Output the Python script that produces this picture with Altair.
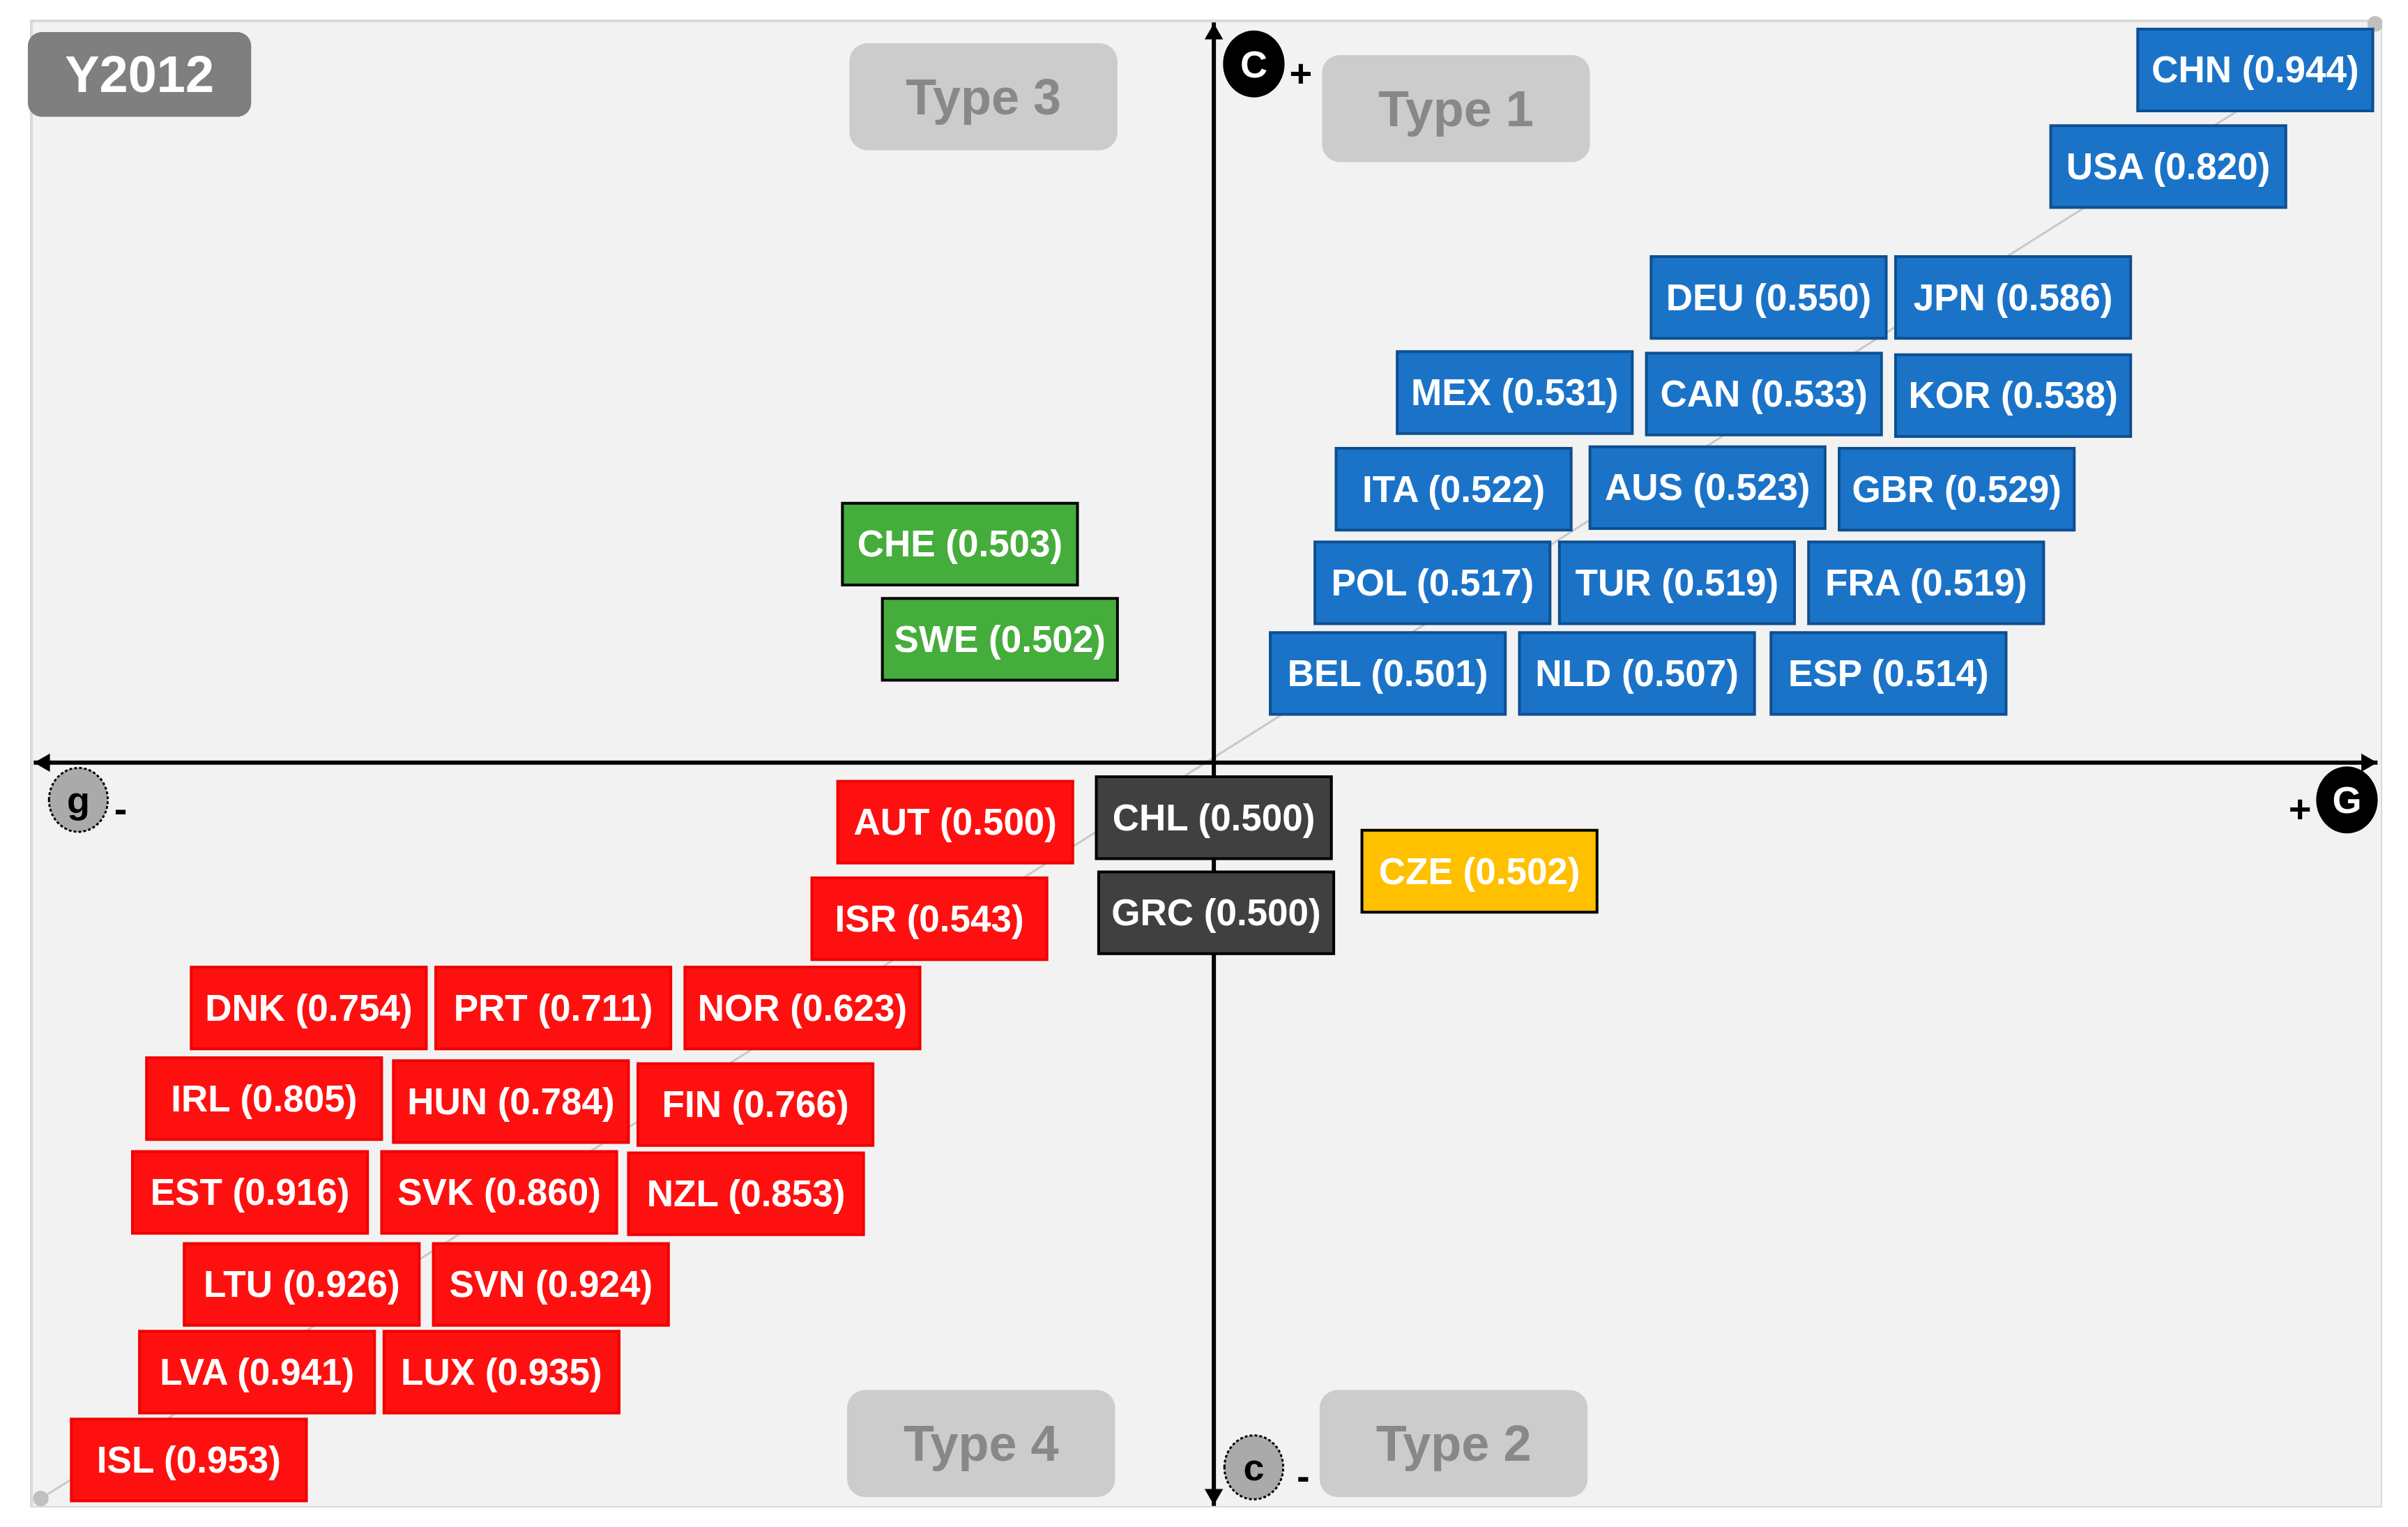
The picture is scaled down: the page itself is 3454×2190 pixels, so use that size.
import altair as alt
import pandas as pd

# ---- data ----
codes = ["CHN", "USA", "DEU", "JPN", "MEX", "CAN", "KOR", "ITA", "AUS", "GBR",
         "POL", "TUR", "FRA", "BEL", "NLD", "ESP", "CHE", "SWE", "CHL", "GRC",
         "CZE", "AUT", "ISR", "DNK", "PRT", "NOR", "IRL", "HUN", "FIN", "EST",
         "SVK", "NZL", "LTU", "SVN", "LVA", "LUX", "ISL"]
scores = [0.944, 0.820, 0.550, 0.586, 0.531, 0.533, 0.538, 0.522, 0.523, 0.529,
          0.517, 0.519, 0.519, 0.501, 0.507, 0.514, 0.503, 0.502, 0.500, 0.500,
          0.502, 0.500, 0.543, 0.754, 0.711, 0.623, 0.805, 0.784, 0.766, 0.916,
          0.860, 0.853, 0.926, 0.924, 0.941, 0.935, 0.953]
groups = (["Type 1"] * 16 + ["Type 3"] * 2 + ["Neutral"] * 2 + ["Type 2"]
          + ["Type 4"] * 16)
# label positions on the G (x) / C (y) plane, 0-100
pos_x = [94.6, 90.9, 73.9, 84.3, 63.1, 73.7, 84.3, 60.5, 71.3, 81.9,
         59.6, 70.0, 80.6, 57.7, 68.3, 79.0, 39.5, 41.2, 50.3, 50.4,
         61.6, 39.3, 38.2, 11.8, 22.2, 32.8, 9.9, 20.4, 30.8, 9.3,
         19.9, 30.4, 11.5, 22.1, 9.6, 20.0, 6.7]
pos_y = [96.7, 90.2, 81.4, 81.4, 75.0, 74.9, 74.8, 68.5, 68.6, 68.5,
         62.2, 62.2, 62.2, 56.1, 56.1, 56.1, 64.8, 58.4, 46.4, 40.0,
         42.8, 46.1, 39.6, 33.6, 33.6, 33.6, 27.5, 27.3, 27.1, 21.2,
         21.2, 21.1, 15.0, 15.0, 9.1, 9.1, 3.2]

type_names = ["Type 3", "Type 1", "Type 4", "Type 2"]
type_x = [40.5, 60.6, 40.4, 60.5]
type_y = [94.9, 94.1, 4.3, 4.3]

axis_letters = ["C", "G", "g", "c"]
axis_letter_x = [52.0, 98.5, 2.0, 52.0]
axis_letter_y = [97.1, 47.6, 47.6, 2.7]
axis_strong = [True, True, False, False]
sign_text = ["+", "+", "-", "-"]
sign_x = [54.0, 96.5, 3.8, 54.1]
sign_y = [96.4, 46.9, 46.9, 2.0]

axis_x0 = 50.3
axis_y0 = 50.1
diag_x = [0.4, 99.7]
diag_y = [0.6, 99.8]

year_label = "Y2012"
year_x, year_y = 4.6, 96.4

group_order = ["Type 1", "Type 2", "Type 3", "Type 4", "Neutral"]
group_fill = ["#1b73c8", "#ffc000", "#45ad3b", "#ff1010", "#404040"]
group_stroke = ["#0d4f91", "#000000", "#000000", "#f00000", "#000000"]

# ---- tables ----
boxes = pd.DataFrame({"code": codes, "score": scores, "group": groups,
                      "x": pos_x, "y": pos_y})
boxes["label"] = [f"{c} ({s:.3f})" for c, s in zip(codes, scores)]
types = pd.DataFrame({"name": type_names, "x": type_x, "y": type_y})
letters = pd.DataFrame({"t": axis_letters, "x": axis_letter_x,
                        "y": axis_letter_y, "strong": axis_strong})
signs = pd.DataFrame({"t": sign_text, "x": sign_x, "y": sign_y})
diag = pd.DataFrame({"x": diag_x, "y": diag_y})
year = pd.DataFrame({"t": [year_label], "x": [year_x], "y": [year_y]})

W, H = 3372, 2132
xs = alt.Scale(domain=[0, 100], nice=False, zero=False)
ys = alt.Scale(domain=[0, 100], nice=False, zero=False)
X = lambda f: alt.X(f, type="quantitative", scale=xs, axis=None)
Y = lambda f: alt.Y(f, type="quantitative", scale=ys, axis=None)
X2 = lambda f: alt.X2(f)
Y2 = lambda f: alt.Y2(f)

LABEL_FONT = "Liberation Sans, Arial, sans-serif"
BOLD_FONT = "Liberation Sans, Arial, sans-serif"

# diagonal reference line
diag_line = alt.Chart(diag).mark_line(color="#c8c8c8", strokeWidth=3).encode(
    x=X("x"), y=Y("y"))
diag_dots = alt.Chart(diag).mark_point(filled=True, color="#c0c0c0", size=500,
                                       opacity=1).encode(x=X("x"), y=Y("y"))

# axes
axes_df = pd.DataFrame({"x": [0.1, axis_x0], "x2": [99.8, axis_x0],
                        "y": [axis_y0, 0.1], "y2": [axis_y0, 99.9]})
axes_lines = alt.Chart(axes_df).mark_rule(color="black", strokeWidth=6).encode(
    x=X("x"), x2=X2("x2"), y=Y("y"), y2=Y2("y2"))
heads_df = pd.DataFrame({
    "x": [0.45, 99.45, axis_x0, axis_x0],
    "y": [axis_y0, axis_y0, 99.3, 0.7],
    "shape": ["triangle-left", "triangle-right", "triangle-up", "triangle-down"]})
heads = alt.Chart(heads_df).mark_point(filled=True, color="black", size=700,
                                        opacity=1).encode(
    x=X("x"), y=Y("y"), shape=alt.Shape("shape:N", scale=None))

# country boxes
rects = alt.Chart(boxes).transform_calculate(
    x1="datum.x - 5", x2="datum.x + 5", y1="datum.y - 2.75", y2="datum.y + 2.75"
).mark_rect(strokeWidth=4).encode(
    x=X("x1"), x2=X2("x2"), y=Y("y1"), y2=Y2("y2"),
    fill=alt.Fill("group:N", scale=alt.Scale(domain=group_order, range=group_fill),
                  legend=None),
    stroke=alt.Stroke("group:N", scale=alt.Scale(domain=group_order, range=group_stroke),
                      legend=None))
rect_text = alt.Chart(boxes).mark_text(
    font=LABEL_FONT, fontSize=53, fontWeight="bold", color="white",
    align="center", baseline="middle", dy=2).encode(
    x=X("x"), y=Y("y"), text="label:N")

# type boxes
type_rects = alt.Chart(types).transform_calculate(
    x1="datum.x - 5.7", x2="datum.x + 5.7", y1="datum.y - 3.6", y2="datum.y + 3.6"
).mark_rect(fill="#cccccc", cornerRadius=26).encode(
    x=X("x1"), x2=X2("x2"), y=Y("y1"), y2=Y2("y2"))
type_text = alt.Chart(types).mark_text(
    font=BOLD_FONT, fontSize=72, fontWeight="bold", color="#888888",
    align="center", baseline="middle", dy=3).encode(
    x=X("x"), y=Y("y"), text="name:N")

# year badge
year_rect = alt.Chart(year).transform_calculate(
    x1="datum.x - 4.75", x2="datum.x + 4.75", y1="datum.y - 2.85", y2="datum.y + 2.85"
).mark_rect(fill="#7f7f7f", cornerRadius=20).encode(
    x=X("x1"), x2=X2("x2"), y=Y("y1"), y2=Y2("y2"))
year_text = alt.Chart(year).mark_text(
    font=BOLD_FONT, fontSize=74, fontWeight="bold", color="white",
    align="center", baseline="middle", dy=3).encode(
    x=X("x"), y=Y("y"), text="t:N")

# axis-end letters
ELLIPSE = "M-0.92,0 A0.92,1 0 1,1 0.92,0 A0.92,1 0 1,1 -0.92,0 Z"
strong_pts = alt.Chart(letters).transform_filter("datum.strong").mark_point(
    shape=ELLIPSE, filled=True, color="black", size=9200, opacity=1).encode(
    x=X("x"), y=Y("y"))
weak_pts = alt.Chart(letters).transform_filter("!datum.strong").mark_point(
    shape=ELLIPSE, filled=True, fill="#aaaaaa", stroke="black", strokeWidth=3,
    strokeDash=[4, 3], size=8400, opacity=1).encode(x=X("x"), y=Y("y"))
letter_text = alt.Chart(letters).mark_text(
    font=BOLD_FONT, fontSize=54, fontWeight="bold", align="center",
    baseline="middle", dy=3).encode(
    x=X("x"), y=Y("y"), text="t:N",
    color=alt.condition("datum.strong", alt.value("white"), alt.value("black")))
sign_marks = alt.Chart(signs).mark_text(
    font=BOLD_FONT, fontSize=56, fontWeight="bold", color="black",
    align="center", baseline="middle").encode(x=X("x"), y=Y("y"), text="t:N")

chart = alt.layer(
    diag_line, diag_dots, axes_lines, heads, rects, rect_text,
    type_rects, type_text, year_rect, year_text,
    strong_pts, weak_pts, letter_text, sign_marks
).properties(
    width=W, height=H,
    padding={"left": 37, "top": 22, "right": 0, "bottom": 0},
    autosize=alt.AutoSizeParams(type="none"),
    background="white"
).configure_view(fill="#f2f2f2", stroke="#d9d9d9", strokeWidth=4)

chart.save("out.html", embed_options={"renderer": "svg", "actions": False})
